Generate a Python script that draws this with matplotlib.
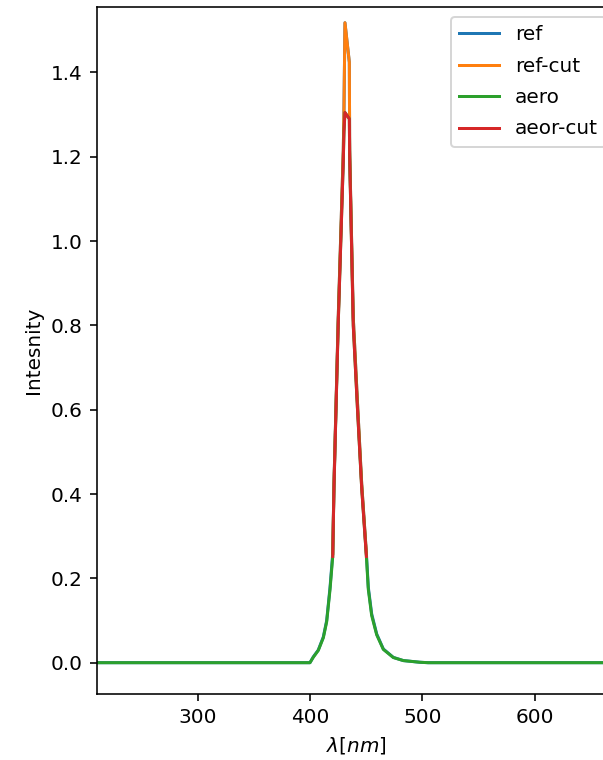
import numpy as np
import matplotlib
matplotlib.use("Agg")
import matplotlib.pyplot as plt

# Wavelength grid (nm) shared by both spectra
wavelength = np.array([200, 399.7, 402.7, 407.1, 411.6, 414.6, 417.6, 420, 421.1, 423,
                       424.9, 427.2, 429.4, 430.0, 430.9, 434.8, 435.1, 438.3, 442,
                       445.8, 450, 451.7, 454.7, 459.2, 465.1, 474, 482.9, 497.7, 505, 700])

# Reference spectrum
ref = np.array([0, 0, 0.014, 0.030, 0.061, 0.10, 0.179, 0.259, 0.425, 0.62,
                0.819, 1.02, 1.215, 1.31, 1.518, 1.424, 1.215, 0.819, 0.62,
                0.425, 0.259, 0.179, 0.116, 0.068, 0.0325, 0.0126, 0.005, 0.001, 0, 0])

# Spectrum after the aerosol layer
aero = np.array([0, 0, 0.013, 0.029, 0.059, 0.097, 0.174, 0.252, 0.415, 0.61,
                 0.805, 1.0, 1.19, 1.26, 1.305, 1.29, 1.2, 0.80, 0.605,
                 0.415, 0.252, 0.174, 0.112, 0.066, 0.0315, 0.0122, 0.005, 0.001, 0, 0])

# Band used for the cut
cut_lo, cut_hi = 420, 450

fig = plt.figure(figsize=(603 / 144, 760 / 144), dpi=144)
ax = fig.add_axes([96.7 / 603, 1 - 694.3 / 760, (616 - 96.7) / 603, (694.3 - 7.3) / 760])

band = (wavelength >= cut_lo) & (wavelength <= cut_hi)
ax.plot(wavelength, ref, label="ref")
ax.plot(wavelength[band], ref[band], label="ref-cut")
ax.plot(wavelength, aero, label="aero")
ax.plot(wavelength[band], aero[band], label="aeor-cut")

ax.set_xlim(209.6, 672.5)
ax.set_ylim(-0.075, 1.5546)
ax.set_xlabel(r"$\lambda[nm]$")
ax.set_ylabel("Intesnity")
ax.legend(loc="upper right", labelspacing=0.62)

fig.savefig("out.png", dpi=144)
